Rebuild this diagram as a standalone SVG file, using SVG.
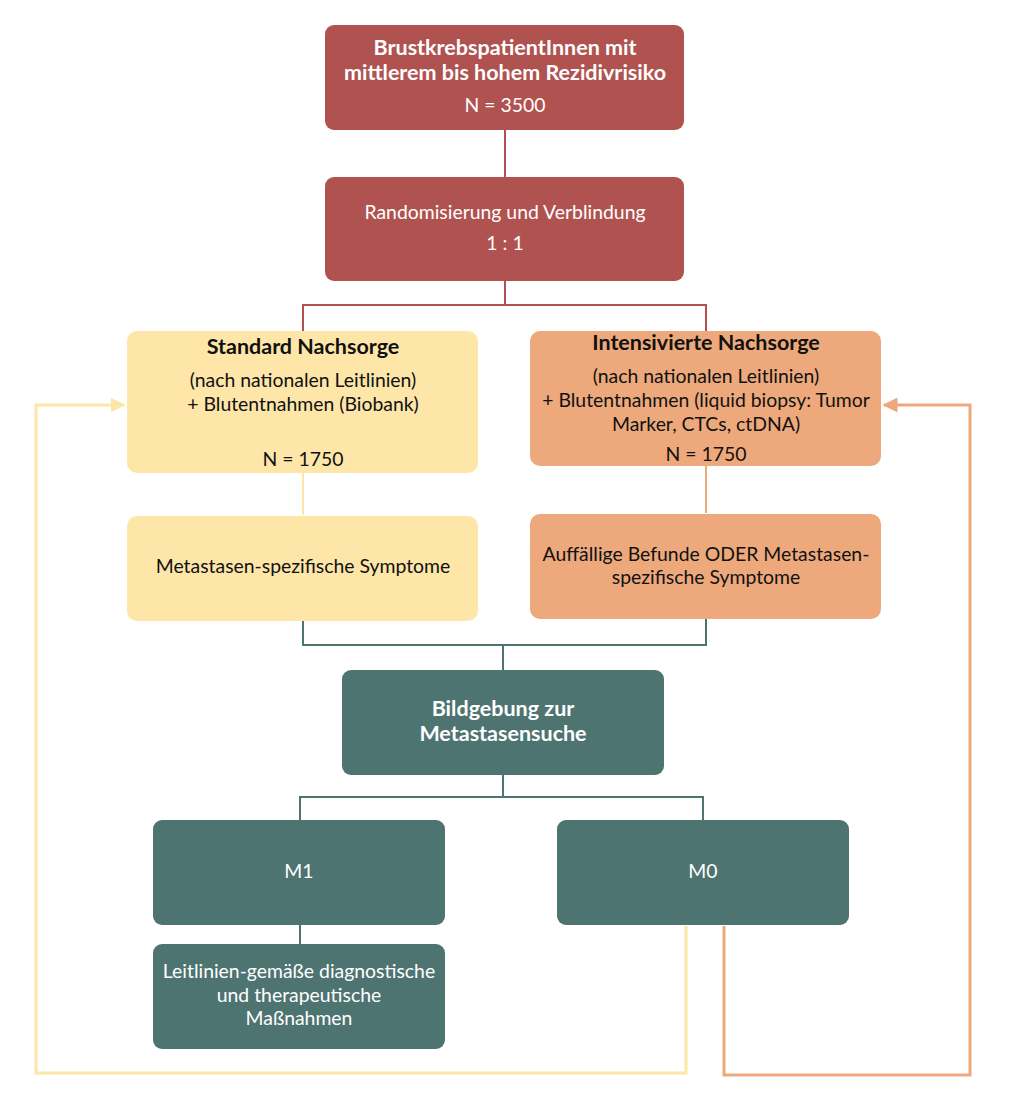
<svg xmlns="http://www.w3.org/2000/svg" width="1016" height="1100" viewBox="0 0 1016 1100">
<defs>
<style>
text{font-family:Lato,"Open Sans","Liberation Sans",sans-serif;font-size:19.4px;text-anchor:middle}
.b{font-weight:bold;font-size:21.5px}
.w{fill:#ffffff}
.k{fill:#111111}
.red{fill:#B05350}
.yel{fill:#FEE6A9}
.ora{fill:#EDA97C}
.teal{fill:#4D7471}
.c{fill:none;stroke-width:2}
.f{fill:none;stroke-width:3}
</style>
<marker id="ay" viewBox="0 0 10 10" refX="9" refY="5" markerWidth="5" markerHeight="5" orient="auto" markerUnits="strokeWidth"><path d="M0,0L10,5L0,10z" fill="#FEE6A9"/></marker>
<marker id="ao" viewBox="0 0 10 10" refX="9" refY="5" markerWidth="5" markerHeight="5" orient="auto" markerUnits="strokeWidth"><path d="M0,0L10,5L0,10z" fill="#EDA97C"/></marker>
</defs>
<rect width="1016" height="1100" fill="#ffffff"/>
<g id="connectors">
<path class="c" stroke="#B05350" d="M505,130V177"/>
<path class="c" stroke="#B05350" d="M505,281V305M303,331V305H706V331"/>
<path class="c" stroke="#FEE6A9" d="M303,473V515"/>
<path class="c" stroke="#EDA97C" d="M706,466V513"/>
<path class="c" stroke="#4D7471" d="M303,621V645H706V619M503,645V670"/>
<path class="c" stroke="#4D7471" d="M503,775V797M300,820V797H703V820"/>
<path class="c" stroke="#4D7471" d="M300,925V944"/>
<path class="f" stroke="#FEE6A9" d="M686,926V1073H36V405H124" marker-end="url(#ay)"/>
<path class="f" stroke="#EDA97C" d="M724,926V1075H970V405H884" marker-end="url(#ao)"/>
</g>
<g id="n1">
<rect class="red" x="325" y="25" width="359" height="105" rx="9"/>
<text class="w b" x="505" y="55">BrustkrebspatientInnen mit</text>
<text class="w b" x="505" y="80">mittlerem bis hohem Rezidivrisiko</text>
<text class="w" x="505" y="112">N = 3500</text>
</g>
<g id="n2">
<rect class="red" x="325" y="177" width="359" height="104" rx="9"/>
<text class="w" x="505" y="219">Randomisierung und Verblindung</text>
<text class="w" x="505" y="250">1 : 1</text>
</g>
<g id="n3">
<rect class="yel" x="127" y="331" width="351" height="142" rx="10"/>
<text class="k b" x="303" y="354">Standard Nachsorge</text>
<text class="k" x="303" y="387">(nach nationalen Leitlinien)</text>
<text class="k" x="303" y="411">+ Blutentnahmen (Biobank)</text>
<text class="k" x="303" y="466">N = 1750</text>
</g>
<g id="n4">
<rect class="ora" x="530" y="331" width="351" height="135" rx="10"/>
<text class="k b" x="706" y="350">Intensivierte Nachsorge</text>
<text class="k" x="706" y="383">(nach nationalen Leitlinien)</text>
<text class="k" x="706" y="407">+ Blutentnahmen (liquid biopsy: Tumor</text>
<text class="k" x="706" y="431">Marker, CTCs, ctDNA)</text>
<text class="k" x="706" y="461">N = 1750</text>
</g>
<g id="n5">
<rect class="yel" x="127" y="516" width="351" height="105" rx="10"/>
<text class="k" x="303" y="573">Metastasen-spezifische Symptome</text>
</g>
<g id="n6">
<rect class="ora" x="530" y="514" width="351" height="105" rx="10"/>
<text class="k" x="706" y="561">Auffällige Befunde ODER Metastasen-</text>
<text class="k" x="706" y="584">spezifische Symptome</text>
</g>
<g id="n7">
<rect class="teal" x="342" y="670" width="322" height="105" rx="9"/>
<text class="w b" x="503" y="716">Bildgebung zur</text>
<text class="w b" x="503" y="741">Metastasensuche</text>
</g>
<g id="n8">
<rect class="teal" x="153" y="820" width="292" height="105" rx="9"/>
<text class="w" x="299" y="878">M1</text>
</g>
<g id="n9">
<rect class="teal" x="557" y="820" width="292" height="105" rx="9"/>
<text class="w" x="703" y="878">M0</text>
</g>
<g id="n10">
<rect class="teal" x="153" y="944" width="292" height="105" rx="9"/>
<text class="w" x="299" y="978">Leitlinien-gemäße diagnostische</text>
<text class="w" x="299" y="1002">und therapeutische</text>
<text class="w" x="299" y="1025">Maßnahmen</text>
</g>
</svg>
